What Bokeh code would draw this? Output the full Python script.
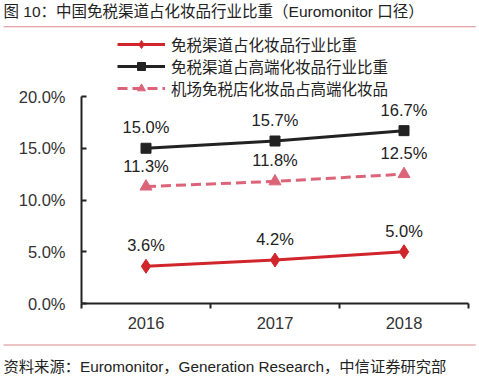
from bokeh.plotting import figure
from bokeh.models import (ColumnDataSource, FixedTicker, PrintfTickFormatter, Legend, LegendItem,
                          Title, Range1d)
from bokeh.core.properties import value
from bokeh.embed import file_html
from bokeh.resources import INLINE

years = ["2016", "2017", "2018"]
duty_free_share = [3.6, 4.2, 5.0]
duty_free_premium_share = [15.0, 15.7, 16.7]
airport_premium_share = [11.3, 11.8, 12.5]
series_names = ["免税渠道占化妆品行业比重", "免税渠道占高端化妆品行业比重", "机场免税店化妆品占高端化妆品"]
y_ticks = [0, 5, 10, 15, 20]
title_text = "图 10：中国免税渠道占化妆品行业比重（Euromonitor 口径）"
source_text = "资料来源：Euromonitor，Generation Research，中信证券研究部"

FONT = "'Liberation Sans', 'Noto Sans CJK SC', sans-serif"
RULE = "#d98a8e"
W, H = 479, 379
LEFT, RIGHT, TOP, BOTTOM = 81, 11, 30, 76     # frame borders (px)
AXIS_TOP_PX = 96                              # where the top tick sits
xs = [i + 0.5 for i in range(len(years))]
frame_h = H - TOP - BOTTOM
y_max = max(y_ticks) * frame_h / (H - BOTTOM - AXIS_TOP_PX)

p = figure(width=W, height=H, output_backend="svg", toolbar_location=None,
           x_range=Range1d(0, len(years)), y_range=Range1d(0, y_max),
           min_border_left=LEFT, min_border_right=RIGHT, min_border_top=TOP, min_border_bottom=BOTTOM)
p.outline_line_color = None
p.xgrid.visible = False
p.ygrid.visible = False

p.xaxis.ticker = FixedTicker(ticks=xs, minor_ticks=list(range(len(years) + 1)))
p.xaxis.major_label_overrides = {x: y for x, y in zip(xs, years)}
p.xaxis.major_tick_in = 0
p.xaxis.major_tick_out = 0
p.xaxis.minor_tick_in = 0
p.xaxis.minor_tick_out = 5
p.xaxis.minor_tick_line_color = "#222222"
p.xaxis.minor_tick_line_width = 2
p.xaxis.axis_line_color = "#222222"
p.xaxis.axis_line_width = 2
p.xaxis.major_label_standoff = 8
p.xaxis.major_label_text_font = FONT
p.xaxis.major_label_text_font_size = "16.5px"
p.xaxis.major_label_text_color = "#333333"

p.yaxis.ticker = FixedTicker(ticks=y_ticks, minor_ticks=[])
p.yaxis.bounds = (min(y_ticks), max(y_ticks))
p.yaxis.formatter = PrintfTickFormatter(format="%.1f%%")
p.yaxis.major_tick_in = 5
p.yaxis.major_tick_out = 0
p.yaxis.major_tick_line_color = "#222222"
p.yaxis.major_tick_line_width = 2
p.yaxis.axis_line_color = "#222222"
p.yaxis.axis_line_width = 2
p.yaxis.major_label_standoff = 16
p.yaxis.major_label_text_font = FONT
p.yaxis.major_label_text_font_size = "16.5px"
p.yaxis.major_label_text_color = "#333333"

series = [
    (duty_free_share, "#d0262b", "diamond", 14, None),
    (duty_free_premium_share, "#222222", "square", 10, None),
    (airport_premium_share, "#dc6478", "triangle", 12, "10 5"),
]

items = []
for (vals, color, marker, size, dash), name in zip(series, series_names):
    src = ColumnDataSource(dict(x=xs, y=vals, lab=["%.1f%%" % v for v in vals]))
    kw = {}
    if dash:
        kw["line_dash"] = dash
    ln = p.line("x", "y", source=src, line_color=color, line_width=3, **kw)
    sc = p.scatter("x", "y", source=src, marker=marker, size=size, fill_color=color, line_color=color)
    p.text("x", "y", text="lab", source=src, text_align="center", text_baseline="middle",
           y_offset=-21, text_font=value(FONT), text_font_size="16.5px", text_color="#222222")
    items.append(LegendItem(label=name, renderers=[ln, sc]))

legend = Legend(items=items, location=(36, 204), glyph_width=48, glyph_height=20,
                label_height=20, label_standoff=6, spacing=-2, padding=0, margin=0,
                border_line_color=None, background_fill_alpha=0)
legend.label_text_font = FONT
legend.label_text_font_size = "15.5px"
legend.label_text_color = "#222222"
p.add_layout(legend, "center")

# rules and texts in the side panels
p.add_layout(Title(text=" ", align="left", offset=3 - LEFT, standoff=6.5, text_font_size="1px",
                   background_fill_color=RULE, padding=(236, 0)), "above")
p.add_layout(Title(text=title_text, align="left", offset=3 - LEFT, standoff=0.5,
                   text_font=FONT, text_font_size="15.5px", text_font_style="normal",
                   text_color="#222222"), "above")
p.add_layout(Title(text=" ", align="left", offset=3 - LEFT, standoff=22, text_font_size="1px",
                   background_fill_color=RULE, padding=(236, 0)), "below")
p.add_layout(Title(text=source_text, align="left", offset=3 - LEFT, standoff=-1,
                   text_font=FONT, text_font_size="15.3px", text_font_style="normal",
                   text_color="#222222"), "below")

open("out.html", "w").write(file_html(p, INLINE))
